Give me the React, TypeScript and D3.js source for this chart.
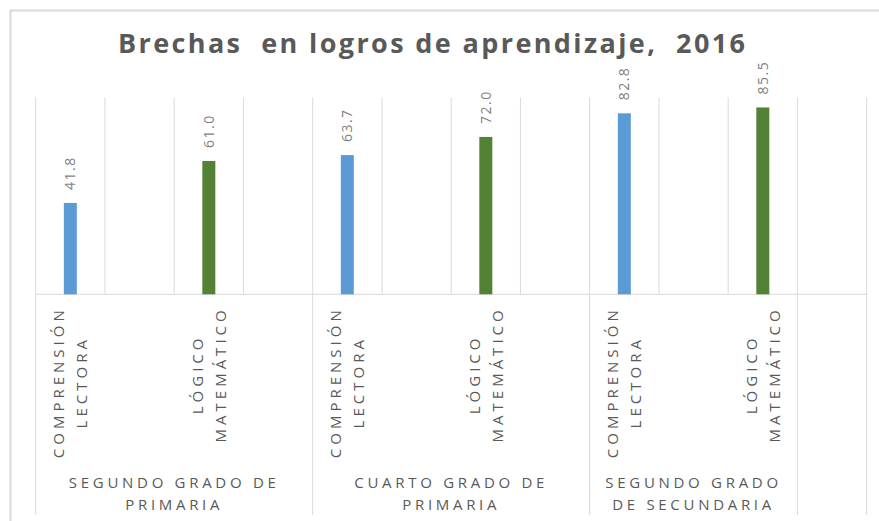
import React, { useRef, useEffect } from 'react';
import * as d3 from 'd3';

// 12 category slots (Excel chart with blank columns between bars)
const categoryLabels = [
    'COMPRENSIÓN\nLECTORA', '', 'LÓGICO\nMATEMÁTICO', '',
    'COMPRENSIÓN\nLECTORA', '', 'LÓGICO\nMATEMÁTICO', '',
    'COMPRENSIÓN\nLECTORA', '', 'LÓGICO\nMATEMÁTICO', '',
];
const groupLabels = [
    'SEGUNDO GRADO DE\nPRIMARIA', 'SEGUNDO GRADO DE\nPRIMARIA', 'SEGUNDO GRADO DE\nPRIMARIA', 'SEGUNDO GRADO DE\nPRIMARIA',
    'CUARTO GRADO DE\nPRIMARIA', 'CUARTO GRADO DE\nPRIMARIA', 'CUARTO GRADO DE\nPRIMARIA', 'CUARTO GRADO DE\nPRIMARIA',
    'SEGUNDO GRADO\nDE SECUNDARIA', 'SEGUNDO GRADO\nDE SECUNDARIA', 'SEGUNDO GRADO\nDE SECUNDARIA',
    '',
];
const values: (number | null)[] = [41.8, null, 61.0, null, 63.7, null, 72.0, null, 82.8, null, 85.5, null];
const seriesColors: Record<string, string> = {
    'COMPRENSIÓN\nLECTORA': '#5B9BD5',
    'LÓGICO\nMATEMÁTICO': '#548235',
};
const yDomain = [0, 90];
const title = 'Brechas  en logros de aprendizaje,  2016';

const W = 879;
const H = 521;
const FONT = '"Open Sans", "DejaVu Sans", sans-serif';

const App: React.FC = () => {
    const svgRef = useRef<SVGSVGElement>(null);

    useEffect(() => {
        if (!svgRef.current) return;
        const svg = d3.select(svgRef.current);
        svg.selectAll('*').remove();

        const plot = { left: 35.7, right: 866.7, top: 97.6, axisY: 294.3, bottom: 515 };

        const x = d3.scaleBand<number>()
            .domain(d3.range(categoryLabels.length))
            .range([plot.left, plot.right])
            .padding(0);
        const y = d3.scaleLinear().domain(yDomain).range([plot.axisY, plot.top]);
        const barW = 13;

        // chart border
        svg.append('rect')
            .attr('x', 10.5).attr('y', 10.5)
            .attr('width', W).attr('height', H)
            .attr('fill', '#fff')
            .attr('stroke', '#d9d9d9')
            .attr('stroke-width', 2);

        // title
        svg.append('text')
            .attr('x', 431.5).attr('y', 53)
            .attr('text-anchor', 'middle')
            .attr('font-family', FONT)
            .attr('font-weight', 'bold')
            .attr('font-size', 27)
            .attr('fill', '#595959')
            .attr('textLength', 627)
            .attr('lengthAdjust', 'spacing')
            .style('white-space', 'pre')
            .text(title);

        // vertical gridlines at every category boundary
        const bounds = d3.range(categoryLabels.length + 1).map(i =>
            i < categoryLabels.length ? x(i)! : plot.right);
        svg.append('g').selectAll('line').data(bounds).join('line')
            .attr('x1', d => d).attr('x2', d => d)
            .attr('y1', plot.top).attr('y2', plot.axisY)
            .attr('stroke', '#d9d9d9').attr('stroke-width', 1);

        // group separators below the axis
        const groupStarts: number[] = [];
        groupLabels.forEach((g, i) => { if (i === 0 || g !== groupLabels[i - 1]) groupStarts.push(i); });
        const sepX = [...groupStarts.map(i => x(i)!), plot.right];
        svg.append('g').selectAll('line').data(sepX).join('line')
            .attr('x1', d => d).attr('x2', d => d)
            .attr('y1', plot.axisY).attr('y2', plot.bottom)
            .attr('stroke', '#d9d9d9').attr('stroke-width', 1);

        // category axis line
        svg.append('line')
            .attr('x1', plot.left).attr('x2', plot.right)
            .attr('y1', plot.axisY).attr('y2', plot.axisY)
            .attr('stroke', '#d9d9d9').attr('stroke-width', 1);

        // bars
        const idx = d3.range(values.length).filter(i => values[i] !== null);
        svg.append('g').selectAll('rect').data(idx).join('rect')
            .attr('x', i => x(i)! + x.bandwidth() / 2 - barW / 2)
            .attr('y', i => y(values[i]!))
            .attr('width', barW)
            .attr('height', i => plot.axisY - y(values[i]!))
            .attr('fill', i => seriesColors[categoryLabels[i]]);

        // data labels (rotated)
        svg.append('g').selectAll('text').data(idx).join('text')
            .attr('transform', i => `translate(${x(i)! + x.bandwidth() / 2},${y(values[i]!) - 13}) rotate(-90)`)
            .attr('dy', '0.35em')
            .attr('font-family', FONT)
            .attr('font-size', 14)
            .attr('letter-spacing', 1.5)
            .attr('fill', '#7f7f7f')
            .text(i => d3.format('.1f')(values[i]!));

        // category labels (rotated, multi-line, centred)
        const lh = 23;
        categoryLabels.forEach((label, i) => {
            if (!label) return;
            const lines = label.split('\n');
            const cx = x(i)! + x.bandwidth() / 2;
            const t = svg.append('text')
                .attr('font-family', FONT)
                .attr('font-size', 15)
                .attr('letter-spacing', 4)
                .attr('fill', '#595959')
                .attr('text-anchor', 'middle');
            lines.forEach((ln, k) => {
                t.append('tspan')
                    .attr('x', 0)
                    .attr('y', (k - (lines.length - 1) / 2) * lh)
                    .attr('dy', '0.35em')
                    .text(ln);
            });
            const maxLen = d3.max(t.selectAll<SVGTSpanElement, unknown>('tspan').nodes(), n => n.getComputedTextLength()) || 0;
            t.attr('transform', `translate(${cx},${plot.axisY + 12 + maxLen / 2}) rotate(-90)`);
        });

        // group labels
        groupStarts.forEach((s, gi) => {
            const label = groupLabels[s];
            if (!label) return;
            const e = gi + 1 < groupStarts.length ? groupStarts[gi + 1] : categoryLabels.length;
            const x0 = x(s)!;
            const x1 = e < categoryLabels.length ? x(e)! : plot.right;
            const t = svg.append('text')
                .attr('font-family', FONT)
                .attr('font-size', 15)
                .attr('letter-spacing', 3.7)
                .attr('fill', '#595959')
                .attr('text-anchor', 'middle');
            label.split('\n').forEach((ln, k) => {
                t.append('tspan')
                    .attr('x', (x0 + x1) / 2)
                    .attr('y', 488 + k * 22)
                    .text(ln);
            });
        });
    }, []);

    return (
        <svg
            ref={svgRef}
            width={W}
            height={H}
            style={{ position: 'absolute', left: 0, top: 0, background: '#fff' }}
        />
    );
};

export default App;
